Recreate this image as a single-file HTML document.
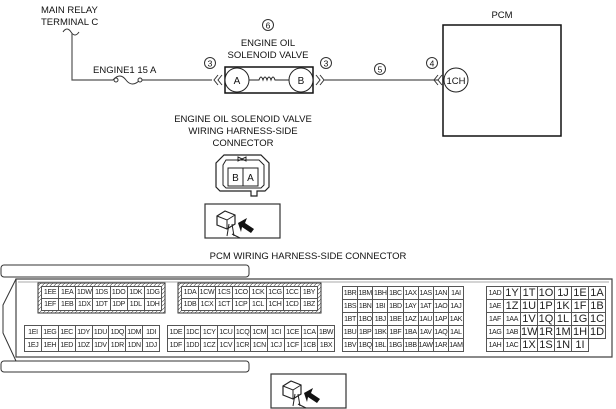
<!DOCTYPE html>
<html><head><meta charset="utf-8"><style>
html,body{margin:0;padding:0;background:#fff;width:616px;height:409px;overflow:hidden}
svg{position:absolute;left:0;top:0}
text{font-family:"Liberation Sans",sans-serif;fill:#111}
table{position:absolute;border-collapse:collapse;table-layout:fixed;font-family:"Liberation Sans",sans-serif;font-size:7px;color:#222;letter-spacing:-0.3px}
td{border:1px solid #555;padding:0;text-align:center;overflow:hidden;white-space:nowrap;background:#fff}
.big td{font-size:11px;letter-spacing:0}
.big td.s{font-size:7px;letter-spacing:-0.3px}
</style></head><body>
<svg width="616" height="409" viewBox="0 0 616 409">
<defs>
<pattern id="h" width="4" height="4" patternUnits="userSpaceOnUse"><rect width="4" height="4" fill="#fff"/><path d="M0 4L4 0" stroke="#666" stroke-width="0.7"/></pattern>
<g id="ico">
<rect x="0" y="0" width="75" height="34" fill="#fff" stroke="#333" stroke-width="1.2"/>
<path d="M12 12l8-5 10 4v9l-8 5-10-4z" fill="#fff" stroke="#222" stroke-width="1.2"/>
<path d="M12 12l10 4 8-5M22 16v9" fill="none" stroke="#222"/>
<path d="M24 20l-2 12M27 20l2 12M27 30l8 4" stroke="#222" fill="none"/>
<path d="M33 19L42 14L40 19L49 25L46 29L37 23L36 28Z" fill="#111"/>
</g>
</defs>
<text x="41" y="13" font-size="9.5">MAIN RELAY</text>
<text x="41" y="25" font-size="9.5">TERMINAL C</text>
<path d="M63 32q4-6 8 0t8 0" fill="none" stroke="#333"/>
<path d="M72 33V80H113M141 80H212" fill="none" stroke="#555" stroke-width="1.2"/>
<path d="M113 80q7-8 13 0t14 0" fill="none" stroke="#333"/>
<circle cx="116" cy="80" r="2" fill="#fff" stroke="#333"/><circle cx="140" cy="80" r="2" fill="#fff" stroke="#333"/>
<text x="93" y="73" font-size="9.5">ENGINE1 15 A</text>
<circle cx="210" cy="63" r="5.5" fill="none" stroke="#333"/><text x="210" y="66.5" font-size="8.5" text-anchor="middle">3</text>
<circle cx="268" cy="25" r="5.5" fill="none" stroke="#333"/><text x="268" y="28.5" font-size="8.5" text-anchor="middle">6</text>
<text x="268" y="46" font-size="9.5" text-anchor="middle">ENGINE OIL</text>
<text x="268" y="58" font-size="9.5" text-anchor="middle">SOLENOID VALVE</text>
<path d="M218 75l-4 5 4 5M222 75l-4 5 4 5" fill="none" stroke="#333"/>
<rect x="225" y="67" width="88" height="26" fill="#fff" stroke="#111" stroke-width="1.5"/>
<circle cx="237" cy="80" r="12" fill="#fff" stroke="#222"/><text x="237" y="84" font-size="10" text-anchor="middle">A</text>
<circle cx="301" cy="80" r="12" fill="#fff" stroke="#222"/><text x="301" y="84" font-size="10" text-anchor="middle">B</text>
<path d="M249 80h10q2-6 4 0q2-6 4 0q2-6 4 0q2-6 4 0h14" fill="none" stroke="#222"/>
<path d="M316 75l4 5-4 5M320 75l4 5-4 5" fill="none" stroke="#333"/>
<circle cx="326" cy="63" r="5.5" fill="none" stroke="#333"/><text x="326" y="66.5" font-size="8.5" text-anchor="middle">3</text>
<path d="M324 80H438" stroke="#555" stroke-width="1.2"/>
<circle cx="380" cy="69" r="5.5" fill="none" stroke="#333"/><text x="380" y="72.5" font-size="8.5" text-anchor="middle">5</text>
<circle cx="432" cy="63" r="5.5" fill="none" stroke="#333"/><text x="432" y="66.5" font-size="8.5" text-anchor="middle">4</text>
<path d="M438 75l-4 5 4 5M442 75l-4 5 4 5" fill="none" stroke="#333"/>
<text x="502" y="18" font-size="9.5" text-anchor="middle">PCM</text>
<rect x="443" y="25" width="118" height="111" fill="none" stroke="#111" stroke-width="1.5"/>
<circle cx="456" cy="80" r="12" fill="#fff" stroke="#222"/><text x="456" y="84" font-size="9.5" text-anchor="middle">1CH</text>
<text x="243" y="122" font-size="9.5" text-anchor="middle">ENGINE OIL SOLENOID VALVE</text>
<text x="243" y="134" font-size="9.5" text-anchor="middle">WIRING HARNESS-SIDE</text>
<text x="243" y="146" font-size="9.5" text-anchor="middle">CONNECTOR</text>
<path d="M224 155h37l8 8v24l-4 4h-8v5h-6v-5h-31l-4-4v-24z" fill="#fff" stroke="#222" stroke-width="1.2"/>
<path d="M226 160h33l5 5v20l-3 3h-35l-3-3v-20z" fill="none" stroke="#222"/>
<path d="M238 157l4 2 4-2v4l-4-2-4 2z" fill="none" stroke="#222"/>
<rect x="228" y="168" width="30" height="18" fill="#fff" stroke="#222"/><path d="M243 168v18" stroke="#222"/>
<text x="235.5" y="181" font-size="10" text-anchor="middle">B</text><text x="250.5" y="181" font-size="10" text-anchor="middle">A</text>
<use href="#ico" x="205" y="204"/>
<text x="308" y="259" font-size="9.5" text-anchor="middle">PCM WIRING HARNESS-SIDE CONNECTOR</text>
<rect x="1" y="265" width="248" height="12" rx="3" fill="#fff" stroke="#333"/>
<path d="M16 279H612V357H16z" fill="none" stroke="#444" stroke-width="1.2"/>
<path d="M18 282H609" stroke="#aaa"/>
<path d="M16 279L3 305V333L16 361" fill="none" stroke="#333"/>
<rect x="1" y="361" width="248" height="11" rx="3" fill="#fff" stroke="#333"/>
<rect x="38" y="283" width="127" height="30" fill="url(#h)" stroke="#333"/>
<rect x="178" y="283" width="143" height="30" fill="url(#h)" stroke="#333"/>
<use href="#ico" x="271" y="374"/>
</svg>
<table style="left:41px;top:286px;width:121px"><tr style="height:12px"><td>1EE</td><td>1EA</td><td>1DW</td><td>1DS</td><td>1DO</td><td>1DK</td><td>1DG</td></tr><tr style="height:12px"><td>1EF</td><td>1EB</td><td>1DX</td><td>1DT</td><td>1DP</td><td>1DL</td><td>1DH</td></tr></table>
<table style="left:181px;top:286px;width:137px"><tr style="height:12px"><td>1DA</td><td>1CW</td><td>1CS</td><td>1CO</td><td>1CK</td><td>1CG</td><td>1CC</td><td>1BY</td></tr><tr style="height:12px"><td>1DB</td><td>1CX</td><td>1CT</td><td>1CP</td><td>1CL</td><td>1CH</td><td>1CD</td><td>1BZ</td></tr></table>
<table style="left:24px;top:325px;width:136px"><tr style="height:13px"><td>1EI</td><td>1EG</td><td>1EC</td><td>1DY</td><td>1DU</td><td>1DQ</td><td>1DM</td><td>1DI</td></tr><tr style="height:13px"><td>1EJ</td><td>1EH</td><td>1ED</td><td>1DZ</td><td>1DV</td><td>1DR</td><td>1DN</td><td>1DJ</td></tr></table>
<table style="left:167px;top:325px;width:168px"><tr style="height:13px"><td>1DE</td><td>1DC</td><td>1CY</td><td>1CU</td><td>1CQ</td><td>1CM</td><td>1CI</td><td>1CE</td><td>1CA</td><td>1BW</td></tr><tr style="height:13px"><td>1DF</td><td>1DD</td><td>1CZ</td><td>1CV</td><td>1CR</td><td>1CN</td><td>1CJ</td><td>1CF</td><td>1CB</td><td>1BX</td></tr></table>
<table style="left:342px;top:286px;width:122px">
<tr style="height:13px"><td>1BR</td><td>1BM</td><td>1BH</td><td>1BC</td><td>1AX</td><td>1AS</td><td>1AN</td><td>1AI</td></tr>
<tr style="height:13px"><td>1BS</td><td>1BN</td><td>1BI</td><td>1BD</td><td>1AY</td><td>1AT</td><td>1AO</td><td>1AJ</td></tr>
<tr style="height:13px"><td>1BT</td><td>1BO</td><td>1BJ</td><td>1BE</td><td>1AZ</td><td>1AU</td><td>1AP</td><td>1AK</td></tr>
<tr style="height:13px"><td>1BU</td><td>1BP</td><td>1BK</td><td>1BF</td><td>1BA</td><td>1AV</td><td>1AQ</td><td>1AL</td></tr>
<tr style="height:13px"><td>1BV</td><td>1BQ</td><td>1BL</td><td>1BG</td><td>1BB</td><td>1AW</td><td>1AR</td><td>1AM</td></tr></table>
<table class="big" style="left:486px;top:286px;width:120px">
<tr style="height:13px"><td class="s">1AD</td><td>1Y</td><td>1T</td><td>1O</td><td>1J</td><td>1E</td><td>1A</td></tr>
<tr style="height:13px"><td class="s">1AE</td><td>1Z</td><td>1U</td><td>1P</td><td>1K</td><td>1F</td><td>1B</td></tr>
<tr style="height:13px"><td class="s">1AF</td><td class="s">1AA</td><td>1V</td><td>1Q</td><td>1L</td><td>1G</td><td>1C</td></tr>
<tr style="height:13px"><td class="s">1AG</td><td class="s">1AB</td><td>1W</td><td>1R</td><td>1M</td><td>1H</td><td>1D</td></tr>
<tr style="height:13px"><td class="s">1AH</td><td class="s">1AC</td><td>1X</td><td>1S</td><td>1N</td><td>1I</td><td style="border:none;background:transparent"></td></tr></table>
</body></html>
